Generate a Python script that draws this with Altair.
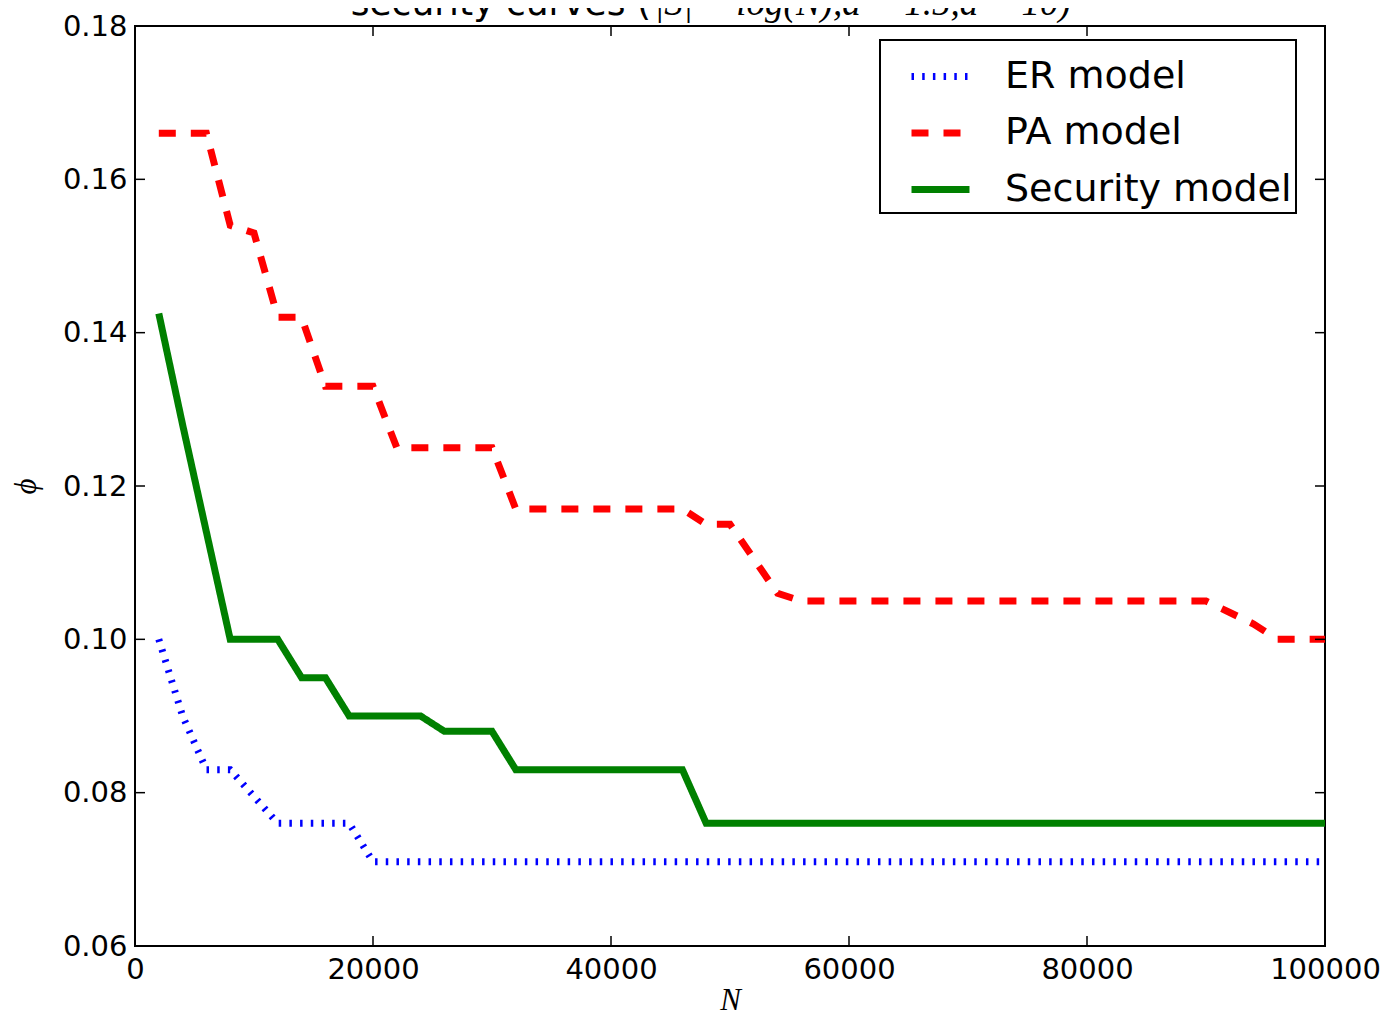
import altair as alt
import pandas as pd

# ---- data ----
N_VALUES = list(range(2000, 100001, 2000))

ER = [0.100, 0.090, 0.083, 0.083, 0.0795, 0.076, 0.076, 0.076, 0.076] + [0.071] * 41

PA = ([0.166, 0.166, 0.166, 0.154, 0.153, 0.142, 0.142, 0.133, 0.133, 0.133]
      + [0.125] * 5 + [0.117] * 8 + [0.115, 0.115, 0.1105, 0.106]
      + [0.105] * 18 + [0.1035, 0.102, 0.100, 0.100, 0.100])

SEC = ([0.1425, 0.128, 0.114, 0.100, 0.100, 0.100, 0.095, 0.095]
       + [0.090] * 4 + [0.088] * 3 + [0.083] * 8 + [0.076] * 27)

SERIES = ["ER model", "PA model", "Security model"]
COLORS = ["#0000ff", "#ff0000", "#008000"]
DASHES = [[2.5, 8.2], [17, 15], [1, 0]]

X_TICKS = [0, 20000, 40000, 60000, 80000, 100000]
Y_TICKS = [0.06, 0.08, 0.10, 0.12, 0.14, 0.16, 0.18]

rows = []
for name, vals in zip(SERIES, [ER, PA, SEC]):
    for n, v in zip(N_VALUES, vals):
        rows.append({"N": n, "phi": v, "model": name})
df = pd.DataFrame(rows)

W, H = 1190, 920
xscale = alt.Scale(domain=[0, 100000], nice=False, zero=False)
yscale = alt.Scale(domain=[0.06, 0.18], nice=False, zero=False)

X_AXIS = alt.Axis(
    values=X_TICKS, format="d", title="N", ticks=False, domain=False, grid=False,
    labelFont="DejaVu Sans", labelFontSize=29, labelColor="black", labelPadding=9,
    labelFlush=False, titleFont="Liberation Serif", titleFontStyle="italic",
    titleFontWeight="normal", titleFontSize=31, titleColor="black", titlePadding=1)
Y_AXIS = alt.Axis(
    values=Y_TICKS, format=".2f", title="ϕ", ticks=False, domain=False, grid=False,
    labelFont="DejaVu Sans", labelFontSize=29, labelColor="black", labelPadding=8,
    labelFlush=False, titleFont="Liberation Serif", titleFontStyle="italic",
    titleFontWeight="normal", titleFontSize=31, titleColor="black", titlePadding=20)

LEGEND = alt.Legend(
    title=None, orient="none", legendX=745, legendY=14,
    labelFont="DejaVu Sans", labelFontSize=38, labelColor="black", labelLimit=500,
    symbolType="stroke", symbolSize=3364, symbolStrokeWidth=7,
    strokeColor="black", fillColor="white", padding=4, rowPadding=4.5,
    labelOffset=32, symbolOffset=24)

lines = alt.Chart(df).mark_line(strokeWidth=7, strokeCap="butt", strokeJoin="miter").encode(
    x=alt.X("N:Q", scale=xscale, axis=X_AXIS),
    y=alt.Y("phi:Q", scale=yscale, axis=Y_AXIS),
    color=alt.Color("model:N", scale=alt.Scale(domain=SERIES, range=COLORS), legend=LEGEND),
    strokeDash=alt.StrokeDash("model:N", scale=alt.Scale(domain=SERIES, range=DASHES), legend=LEGEND),
    order=alt.Order("N:Q"),
)

xt = pd.DataFrame({"N": X_TICKS})
yt = pd.DataFrame({"phi": Y_TICKS})
TICK = 10
tick_style = dict(color="black", strokeWidth=1.5)

bottom_ticks = alt.Chart(xt).mark_rule(**tick_style).encode(
    x=alt.X("N:Q", scale=xscale, axis=X_AXIS), y=alt.value(H), y2=alt.value(H - TICK))
top_ticks = alt.Chart(xt).mark_rule(**tick_style).encode(
    x=alt.X("N:Q", scale=xscale, axis=X_AXIS), y=alt.value(0), y2=alt.value(TICK))
left_ticks = alt.Chart(yt).mark_rule(**tick_style).encode(
    y=alt.Y("phi:Q", scale=yscale, axis=Y_AXIS), x=alt.value(0), x2=alt.value(TICK))
right_ticks = alt.Chart(yt).mark_rule(**tick_style).encode(
    y=alt.Y("phi:Q", scale=yscale, axis=Y_AXIS), x=alt.value(W), x2=alt.value(W - TICK))

title_left = alt.Chart(pd.DataFrame({"t": ["security curves ("]})).mark_text(
    font="DejaVu Sans", fontSize=36, align="right", baseline="alphabetic", color="black"
).encode(x=alt.value(516), y=alt.value(-11), text="t:N")
title_math = alt.Chart(pd.DataFrame({"t": ["|S| = log(N),a = 1.5,d = 10)"]})).mark_text(
    font="Liberation Serif", fontStyle="italic", fontSize=37, align="left",
    baseline="alphabetic", color="black"
).encode(x=alt.value(519), y=alt.value(-11), text="t:N")

chart = alt.layer(
    lines, bottom_ticks, top_ticks, left_ticks, right_ticks, title_left, title_math
).properties(
    width=W, height=H,
    autosize=alt.AutoSizeParams(type="none"),
    padding={"left": 127, "top": 18, "right": 60, "bottom": 68},
).configure(
    background="white"
).configure_view(
    stroke="black", strokeWidth=2
).configure_legend(
    strokeWidth=2
)

chart.save("out.html", embed_options={"renderer": "svg", "actions": False})
